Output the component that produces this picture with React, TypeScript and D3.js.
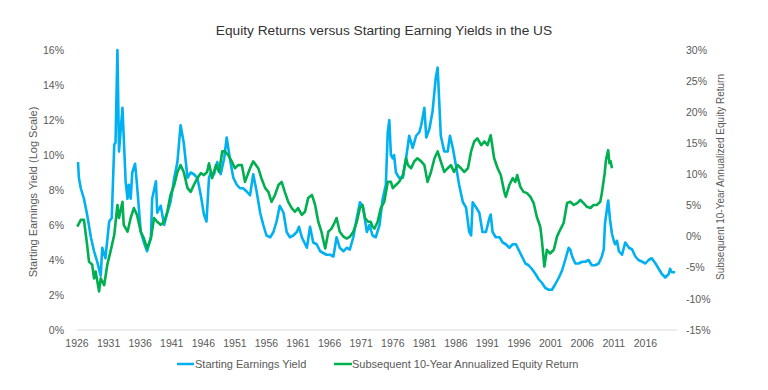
import React from "react";
import * as d3 from "d3";

const yieldYears = [1926.16,1926.3,1926.6,1927.1,1927.6,1928.2,1928.7,1929.2,1929.75,1930.0,1930.5,1931.1,1931.5,1931.9,1932.1,1932.4,1932.65,1933.2,1933.4,1933.7,1934.0,1934.2,1934.5,1934.75,1935.2,1935.5,1936.1,1936.6,1937.1,1937.7,1937.9,1938.5,1938.7,1939.25,1939.8,1940.3,1940.8,1941.4,1941.9,1942.4,1942.9,1943.5,1944.0,1944.5,1945.05,1945.6,1946.1,1946.5,1946.9,1947.2,1947.7,1948.2,1948.75,1949.3,1949.7,1950.2,1950.75,1951.3,1951.8,1952.3,1952.9,1953.4,1953.9,1954.45,1955.0,1955.5,1956.0,1956.6,1957.1,1957.6,1958.1,1958.7,1959.2,1959.7,1960.25,1960.8,1961.15,1961.6,1962.4,1962.9,1963.4,1963.95,1964.5,1965.0,1965.5,1966.1,1966.6,1967.1,1967.6,1968.2,1968.7,1969.2,1969.75,1970.3,1970.8,1971.3,1971.9,1972.3,1972.8,1973.3,1973.9,1974.4,1974.9,1975.2,1975.45,1975.7,1976.0,1976.2,1976.5,1977.0,1977.6,1978.1,1978.6,1979.15,1979.7,1980.2,1980.5,1981.0,1981.3,1981.8,1982.3,1982.8,1983.1,1983.4,1983.6,1984.15,1984.7,1985.05,1985.5,1986.0,1986.5,1987.1,1987.6,1988.1,1988.4,1988.65,1989.2,1989.7,1990.2,1990.75,1991.3,1991.5,1991.8,1992.3,1992.9,1993.4,1993.9,1994.45,1995.0,1995.5,1995.9,1996.45,1997.0,1997.5,1998.0,1998.6,1999.1,1999.6,2000.15,2000.7,2001.2,2001.7,2002.3,2002.8,2003.3,2003.85,2004.1,2004.4,2004.9,2005.4,2006.0,2006.5,2007.0,2007.5,2008.05,2008.6,2009.1,2009.4,2009.6,2010.1,2010.4,2010.7,2011.0,2011.2,2011.5,2011.8,2012.3,2012.8,2013.4,2013.9,2014.4,2014.9,2015.5,2016.0,2016.5,2017.0,2017.6,2018.1,2018.6,2019.15,2019.7,2019.9,2020.2,2020.7];
const yieldValues = [9.6,8.7,8.1,7.5,6.6,5.3,4.5,3.9,3.1,4.7,4.1,6.2,6.4,10.6,10.7,16.0,10.2,12.7,11.0,8.5,7.5,8.3,7.5,9.0,9.5,8.3,5.6,5.0,4.5,5.3,7.5,8.5,6.7,7.1,6.0,6.7,7.3,8.7,9.6,11.7,10.7,8.7,9.0,8.9,8.7,7.7,6.6,6.2,8.7,9.0,8.9,9.6,8.9,9.8,11.0,9.8,8.7,8.3,8.1,8.1,7.9,7.7,8.9,7.9,6.7,6.0,5.4,5.3,5.6,6.2,7.1,6.7,5.6,5.3,5.4,5.6,5.9,5.3,4.7,5.9,5.0,4.9,4.5,4.4,4.3,4.3,4.2,5.3,4.7,4.5,4.7,4.6,5.3,6.4,7.3,7.0,5.6,6.0,5.4,5.3,6.0,7.5,8.3,11.3,12.0,10.0,9.8,10.0,9.0,8.7,8.7,9.8,11.1,10.4,11.1,11.3,11.7,12.7,11.0,11.5,12.5,14.4,15.0,12.7,11.1,10.2,10.2,11.1,10.4,9.4,8.3,7.3,7.0,5.6,5.4,7.3,7.0,6.7,5.6,5.6,6.4,6.6,5.6,5.3,5.3,5.0,4.9,4.7,4.9,4.9,4.6,4.2,3.8,3.7,3.5,3.2,2.9,2.7,2.4,2.3,2.3,2.6,3.0,3.4,4.0,4.7,4.6,4.2,3.8,3.8,3.9,3.9,4.0,3.7,3.7,3.8,4.2,4.6,6.1,7.4,6.3,5.5,5.1,4.9,5.1,4.5,4.3,5.0,4.7,4.6,4.2,4.0,3.9,3.8,4.0,4.1,3.8,3.5,3.2,3.0,3.2,3.5,3.3,3.3];

const returnYears = [1926.05,1926.6,1927.1,1927.6,1927.9,1928.4,1928.7,1928.95,1929.5,1929.75,1930.3,1930.8,1931.3,1931.9,1932.4,1932.65,1933.2,1933.4,1934.0,1934.5,1935.0,1935.5,1936.1,1936.6,1937.1,1937.7,1938.2,1938.7,1939.25,1939.8,1940.3,1940.8,1941.4,1941.9,1942.4,1942.9,1943.5,1944.0,1944.5,1945.05,1945.6,1946.1,1946.6,1946.9,1947.4,1948.0,1948.5,1949.0,1949.4,1949.95,1950.5,1951.0,1951.5,1952.1,1952.6,1953.4,1953.9,1954.7,1955.2,1955.8,1956.3,1956.8,1957.35,1957.9,1958.4,1958.9,1959.45,1960.0,1960.5,1961.0,1961.6,1962.1,1962.6,1963.2,1963.7,1964.2,1964.7,1965.3,1965.8,1966.3,1966.85,1967.1,1967.6,1968.2,1968.7,1969.2,1969.75,1970.3,1970.8,1971.2,1971.6,1972.1,1972.5,1972.8,1973.1,1973.6,1974.1,1974.65,1975.2,1975.7,1976.0,1976.5,1977.0,1977.6,1978.1,1978.4,1978.9,1979.4,1979.9,1980.5,1981.0,1981.5,1982.05,1982.6,1983.1,1983.6,1984.15,1984.7,1985.2,1985.7,1986.3,1986.8,1987.3,1987.9,1988.4,1988.9,1989.4,1990.0,1990.5,1991.0,1991.5,1992.05,1992.6,1993.1,1993.65,1993.9,1994.45,1995.0,1995.4,1995.7,1996.2,1996.7,1997.25,1997.8,1998.3,1998.8,1999.35,1999.6,2000.0,2000.4,2000.9,2001.5,2002.0,2002.5,2003.05,2003.6,2004.1,2004.65,2005.2,2005.7,2006.2,2006.75,2007.3,2007.8,2008.3,2008.85,2009.1,2009.55,2009.75,2010.1,2010.3,2010.5,2010.7];
const returnValues = [1.6,2.7,2.7,-1.3,-4.0,-4.5,-6.7,-5.6,-8.8,-6.7,-7.8,-4.5,-2.4,0.3,5.1,3.0,5.6,1.9,0.8,3.0,4.6,3.5,0.8,-0.3,-1.9,-0.3,3.0,2.4,1.9,2.4,4.0,6.7,8.3,10.4,11.5,10.4,7.8,7.2,8.3,9.4,10.2,9.9,10.4,11.8,9.4,11.5,10.4,13.7,13.7,13.1,12.1,11.0,11.5,11.5,8.8,11.0,12.1,11.0,9.4,7.8,7.2,5.6,6.7,8.3,8.8,7.2,5.6,4.6,4.0,4.6,3.5,4.0,6.2,6.7,5.1,2.4,0.8,-1.9,0.8,1.3,2.4,3.0,0.8,0.0,-0.3,0.0,0.8,2.4,4.6,5.1,3.0,2.4,2.4,1.6,1.3,2.4,4.6,5.6,8.8,8.8,7.8,8.3,8.8,9.9,12.6,11.5,11.0,12.1,12.6,12.1,11.5,8.8,10.4,12.6,13.7,12.1,10.4,11.0,11.5,10.4,11.5,11.0,10.4,11.0,13.7,15.3,15.8,14.7,15.3,14.7,16.3,12.6,11.0,9.9,7.2,6.4,8.3,9.4,8.8,9.9,8.0,7.2,7.0,6.4,5.4,3.2,1.6,-0.5,-4.8,-2.1,-2.7,-2.1,0.0,1.1,2.2,5.4,5.6,5.1,5.4,5.9,5.4,4.8,4.6,5.1,5.1,5.6,7.0,10.2,12.3,13.9,11.8,12.1,11.0];

const xTickYears = [1926,1931,1936,1941,1946,1951,1956,1961,1966,1971,1976,1981,1986,1991,1996,2001,2006,2011,2016];
const leftTicks = [0,2,4,6,8,10,12,14,16];
const rightTicks = [-15,-10,-5,0,5,10,15,20,25,30];

const title = "Equity Returns versus Starting Earning Yields in the US";
const leftTitle = "Starting Earnings Yield (Log Scale)";
const rightTitle = "Subsequent 10-Year Annualized Equity Return";
const seriesNames = ["Starting Earnings Yield", "Subsequent 10-Year Annualized Equity Return"];

const BLUE = "#00B0F0";
const GREEN = "#00B050";
const FONT = "'Liberation Sans', Arial, sans-serif";

export default function App() {
  const W = 768, H = 390;
  const x = d3.scaleLinear().domain([1926, 2021]).range([77, 677]);
  const yL = d3.scaleLinear().domain([0, 16]).range([330, 50]);
  const yR = d3.scaleLinear().domain([-15, 30]).range([330, 50]);

  const blue = yieldYears.map((t, i) => [t, yieldValues[i]] as [number, number]);
  const green = returnYears.map((t, i) => [t, returnValues[i]] as [number, number]);
  const lineL = d3.line<[number, number]>().x(d => x(d[0])).y(d => yL(d[1]));
  const lineR = d3.line<[number, number]>().x(d => x(d[0])).y(d => yR(d[1]));

  return (
    <svg width={W} height={H} style={{ position: "absolute", left: 0, top: 0, background: "#fff" }} fontFamily={FONT}>
      <text x={384} y={35} textAnchor="middle" fontSize={13.7} fill="#333">{title}</text>
      <line x1={x(1926)} x2={x(2021)} y1={330} y2={330} stroke="#d9d9d9" strokeWidth={1} />
      {leftTicks.map(t => (
        <text key={"l" + t} x={64} y={yL(t)} dy="0.35em" textAnchor="end" fontSize={10.5} fill="#595959">{t + "%"}</text>
      ))}
      {rightTicks.map(t => (
        <text key={"r" + t} x={686} y={yR(t)} dy="0.35em" textAnchor="start" fontSize={10.5} fill="#595959">{t + "%"}</text>
      ))}
      {xTickYears.map(t => (
        <text key={"x" + t} x={x(t)} y={343} dy="0.35em" textAnchor="middle" fontSize={10.5} fill="#595959">{t}</text>
      ))}
      <text transform={`translate(37,192) rotate(-90)`} textAnchor="middle" fontSize={11} fill="#595959">{leftTitle}</text>
      <text transform={`translate(724,177) rotate(-90)`} textAnchor="middle" fontSize={10} fill="#595959">{rightTitle}</text>
      <path d={lineL(blue) || ""} fill="none" stroke={BLUE} strokeWidth={2.6} strokeLinejoin="round" />
      <path d={lineR(green) || ""} fill="none" stroke={GREEN} strokeWidth={2.6} strokeLinejoin="round" />
      <line x1={177} x2={194} y1={364} y2={364} stroke={BLUE} strokeWidth={2.5} />
      <text x={195} y={364} dy="0.35em" fontSize={11} fill="#595959">{seriesNames[0]}</text>
      <line x1={334} x2={352} y1={364} y2={364} stroke={GREEN} strokeWidth={2.5} />
      <text x={352} y={364} dy="0.35em" fontSize={11} fill="#595959">{seriesNames[1]}</text>
    </svg>
  );
}
